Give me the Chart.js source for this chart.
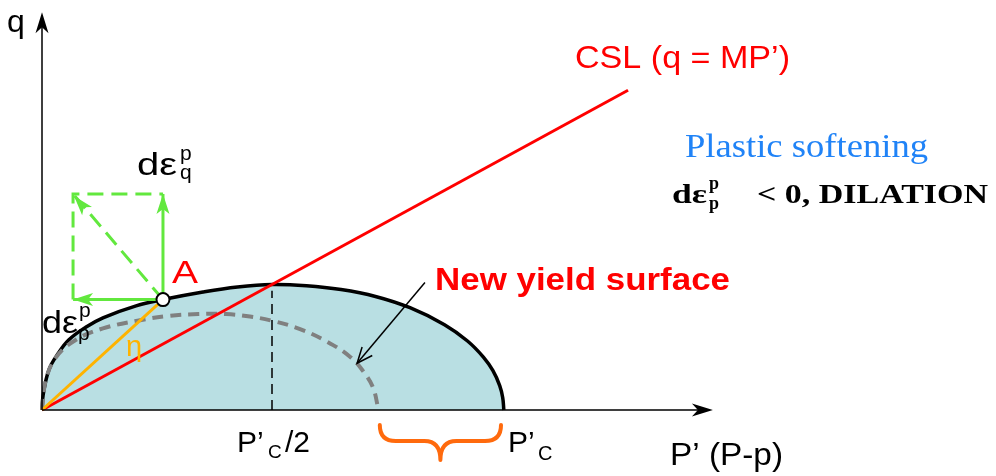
<!DOCTYPE html>
<html>
<head>
<meta charset="utf-8">
<script src="https://cdn.jsdelivr.net/npm/chart.js@4.4.0/dist/chart.umd.min.js"></script>
<style>
  html, body { margin: 0; padding: 0; background: #fff; }
  #wrap { width: 996px; height: 476px; }
</style>
</head>
<body>
<div id="wrap"><canvas id="c" width="996" height="476"></canvas></div>
<script>
// Stress space p' (horizontal) and q (vertical), in units of p'c / 2.

// current yield surface
const yieldP = [0, 0.005, 0.03, 0.07, 0.117, 0.19, 0.265, 0.409, 0.526, 0.7, 0.85, 1.0, 1.15, 1.3, 1.45, 1.6, 1.75, 1.85, 1.92, 1.96, 1.99, 2.003, 2.008];
const yieldQ = [0, 0.12, 0.32, 0.45, 0.56, 0.66, 0.735, 0.83, 0.88, 0.94, 0.98, 1.0, 0.99, 0.96, 0.905, 0.815, 0.68, 0.55, 0.42, 0.315, 0.195, 0.1, 0];

// shrunk (softened) yield surface
const newYieldP = [0, 0.017, 0.061, 0.148, 0.265, 0.409, 0.552, 0.68, 0.8, 0.904, 1.004, 1.122, 1.239, 1.339, 1.396, 1.439, 1.461];
const newYieldQ = [0, 0.24, 0.42, 0.56, 0.65, 0.71, 0.75, 0.765, 0.765, 0.745, 0.71, 0.645, 0.545, 0.425, 0.31, 0.18, 0.02];

// critical state line q = M p'
const cslP = [0, 2.548];
const cslQ = [0, 2.548];

// stress point A on the yield surface
const pointA = [0.526, 0.88];

// plastic strain increment components drawn from A
const flowLeftP = 0.135;   // end of the d-eps-p component
const flowTopQ = 1.722;    // end of the d-eps-q component

// characteristic pressures
const pcHalf = 1.0;
const pcValue = 2.0;
const pcHalfTopQ = 0.95;

// axis extents
const axisEndP = 2.917;
const axisEndQ = 3.17;

const pts = (xs, ys) => xs.map((x, i) => ({ x, y: ys[i] }));

const GREEN = '#62E83E';
const RED = '#FF0000';
const ORANGE = '#FFB300';

function arrowHead(ctx, x1, y1, x2, y2, len, half, notch, color) {
  const a = Math.atan2(y2 - y1, x2 - x1);
  ctx.save();
  ctx.translate(x2, y2);
  ctx.rotate(a);
  ctx.beginPath();
  ctx.moveTo(0, 0);
  ctx.lineTo(-len, -half);
  ctx.lineTo(-len + notch, 0);
  ctx.lineTo(-len, half);
  ctx.closePath();
  ctx.fillStyle = color;
  ctx.fill();
  ctx.restore();
}

function text(ctx, s, x, y, font, color, width) {
  ctx.save();
  ctx.font = font;
  ctx.fillStyle = color;
  ctx.textAlign = 'left';
  ctx.textBaseline = 'alphabetic';
  if (width) {
    const w = ctx.measureText(s).width;
    ctx.translate(x, y);
    ctx.scale(width / w, 1);
    ctx.fillText(s, 0, 0);
  } else {
    ctx.fillText(s, x, y);
  }
  ctx.restore();
}

const decor = {
  id: 'decor',
  afterDatasetsDraw(chart) {
    const ctx = chart.ctx;
    const X = v => chart.scales.x.getPixelForValue(v);
    const Y = v => chart.scales.y.getPixelForValue(v);
    const ox = X(0), oy = Y(0);

    // axes
    ctx.save();
    ctx.strokeStyle = '#000';
    ctx.lineWidth = 1.5;
    ctx.beginPath();
    ctx.moveTo(ox, oy); ctx.lineTo(ox, Y(axisEndQ) + 10);
    ctx.moveTo(ox, oy); ctx.lineTo(X(axisEndP) - 10, oy);
    ctx.stroke();
    ctx.restore();
    arrowHead(ctx, ox, oy, ox, Y(axisEndQ), 21, 6.5, 6, '#000');
    arrowHead(ctx, ox, oy, X(axisEndP), oy, 21, 6.5, 6, '#000');

    // green arrowheads of the strain increment vectors
    const ax = X(pointA[0]), ay = Y(pointA[1]);
    arrowHead(ctx, ax, ay, ax, Y(flowTopQ), 20, 6.5, 5, GREEN);
    arrowHead(ctx, ax, ay, X(flowLeftP), ay, 20, 6.5, 5, GREEN);
    arrowHead(ctx, ax, ay, X(flowLeftP) + 1, Y(flowTopQ) + 2, 20, 6.5, 5, GREEN);

    // pointer to the new yield surface
    ctx.save();
    ctx.strokeStyle = '#000';
    ctx.lineWidth = 1.5;
    const sx = X(1.665), sy = Y(1.016), tx = X(1.37), ty = Y(0.373);
    ctx.beginPath(); ctx.moveTo(sx, sy); ctx.lineTo(tx, ty); ctx.stroke();
    const ang = Math.atan2(ty - sy, tx - sx);
    ctx.beginPath();
    ctx.moveTo(tx - 17 * Math.cos(ang - 0.4), ty - 17 * Math.sin(ang - 0.4));
    ctx.lineTo(tx, ty);
    ctx.lineTo(tx - 17 * Math.cos(ang + 0.4), ty - 17 * Math.sin(ang + 0.4));
    ctx.stroke();
    ctx.restore();

    // brace between the two preconsolidation pressures
    const bl = X(1.46) + 2, br = X(pcValue) - 1, bm = (bl + br) / 2;
    const bt = oy + 15, bh = oy + 31, bb = oy + 50;
    ctx.save();
    ctx.strokeStyle = '#FF6A0D';
    ctx.lineWidth = 4;
    ctx.lineCap = 'round';
    ctx.lineJoin = 'round';
    ctx.beginPath();
    ctx.moveTo(bl, bt);
    ctx.quadraticCurveTo(bl, bh, bl + 16, bh);
    ctx.lineTo(bm - 16, bh);
    ctx.quadraticCurveTo(bm, bh, bm, bb);
    ctx.quadraticCurveTo(bm, bh, bm + 16, bh);
    ctx.lineTo(br - 16, bh);
    ctx.quadraticCurveTo(br, bh, br, bt);
    ctx.stroke();
    ctx.restore();

    const SANS = '"Liberation Sans", Arial, sans-serif';
    const SERIF = '"Liberation Serif", "Times New Roman", serif';

    text(ctx, 'q', 7, 32, '32px ' + SANS, '#000');
    text(ctx, 'CSL (q = MP\u2019)', 575, 68, '32px ' + SANS, RED, 215);
    text(ctx, 'A', 172, 283, '31px ' + SANS, RED, 26);
    text(ctx, '\u03B7', 126, 356, '29px ' + SANS, ORANGE);
    text(ctx, 'New yield surface', 435, 290, 'bold 32px ' + SANS, RED, 295);

    // d eps q superscript p
    text(ctx, 'd\u03B5', 137, 175, '32px ' + SANS, '#000', 40);
    text(ctx, 'p', 180, 160, '21px ' + SANS, '#000');
    text(ctx, 'q', 180, 179, '21px ' + SANS, '#000');

    // d eps p superscript p
    text(ctx, 'd\u03B5', 42, 333, '31px ' + SANS, '#000', 36);
    text(ctx, 'p', 79, 317, '21px ' + SANS, '#000');
    text(ctx, 'p', 78, 340, '21px ' + SANS, '#000');

    // axis annotations
    text(ctx, 'P\u2019', 237, 452, '30px ' + SANS, '#000');
    text(ctx, 'C', 268, 458, '19px ' + SANS, '#000');
    text(ctx, '/2', 285, 452, '30px ' + SANS, '#000');
    text(ctx, 'P\u2019', 508, 452, '30px ' + SANS, '#000');
    text(ctx, 'C', 538, 460, '20px ' + SANS, '#000');
    text(ctx, 'P\u2019 (P-p)', 670, 465, '31px ' + SANS, '#000', 113);

    // state description
    text(ctx, 'Plastic softening', 685, 157, '34px ' + SERIF, '#2083F7', 243);
    text(ctx, 'd\u03B5', 672, 203, 'bold 28px ' + SERIF, '#000', 35);
    text(ctx, 'p', 709, 189, 'bold 18px ' + SERIF, '#000');
    text(ctx, 'p', 709, 209, 'bold 18px ' + SERIF, '#000');
    text(ctx, '< 0, DILATION', 757, 203, 'bold 28px ' + SERIF, '#000', 231);
  }
};

new Chart(document.getElementById('c'), {
  type: 'line',
  data: {
    datasets: [
      { // stress point A
        data: [{ x: pointA[0], y: pointA[1] }],
        showLine: false, pointRadius: 6.5, pointHoverRadius: 6.5,
        pointBackgroundColor: '#fff', pointBorderColor: '#000', pointBorderWidth: 2,
        order: 0, clip: false
      },
      { // d eps q component
        data: [{ x: pointA[0], y: pointA[1] }, { x: pointA[0], y: flowTopQ }],
        borderColor: GREEN, borderWidth: 3, pointRadius: 0, order: 1, clip: false
      },
      { // d eps p component
        data: [{ x: pointA[0], y: pointA[1] }, { x: flowLeftP, y: pointA[1] }],
        borderColor: GREEN, borderWidth: 3, pointRadius: 0, order: 1, clip: false
      },
      { // parallelogram completion
        data: [{ x: flowLeftP, y: pointA[1] }, { x: flowLeftP, y: flowTopQ }, { x: pointA[0], y: flowTopQ }],
        borderColor: GREEN, borderWidth: 3, borderDash: [16, 8], pointRadius: 0, order: 1, clip: false
      },
      { // resultant plastic strain increment
        data: [{ x: pointA[0], y: pointA[1] }, { x: flowLeftP, y: flowTopQ }],
        borderColor: GREEN, borderWidth: 3, borderDash: [16, 8], pointRadius: 0, order: 1, clip: false
      },
      { // stress ratio eta
        data: [{ x: 0, y: 0 }, { x: pointA[0], y: pointA[1] }],
        borderColor: ORANGE, borderWidth: 3, pointRadius: 0, order: 2, clip: false
      },
      { // critical state line
        data: pts(cslP, cslQ),
        borderColor: RED, borderWidth: 3, pointRadius: 0, order: 3, clip: false
      },
      { // new yield surface
        data: pts(newYieldP, newYieldQ),
        borderColor: '#808080', borderWidth: 4, borderDash: [11, 7],
        tension: 0.4, pointRadius: 0, order: 4, clip: false
      },
      { // p'c / 2
        data: [{ x: pcHalf, y: 0 }, { x: pcHalf, y: pcHalfTopQ }],
        borderColor: '#000', borderWidth: 1.5, borderDash: [10, 6], pointRadius: 0, order: 5, clip: false
      },
      { // current yield surface
        data: pts(yieldP, yieldQ),
        borderColor: '#000', borderWidth: 3.5, backgroundColor: '#B9DFE3', fill: 'origin',
        tension: 0.4, pointRadius: 0, order: 6, clip: false
      }
    ]
  },
  options: {
    responsive: false,
    animation: false,
    devicePixelRatio: 1,
    events: [],
    layout: { padding: { left: 42, right: 34, top: 7, bottom: 66 } },
    scales: {
      x: { type: 'linear', min: 0, max: 4, display: false },
      y: { type: 'linear', min: 0, max: 3.2, display: false }
    },
    plugins: { legend: { display: false }, tooltip: { enabled: false } }
  },
  plugins: [decor]
});
</script>
</body>
</html>
